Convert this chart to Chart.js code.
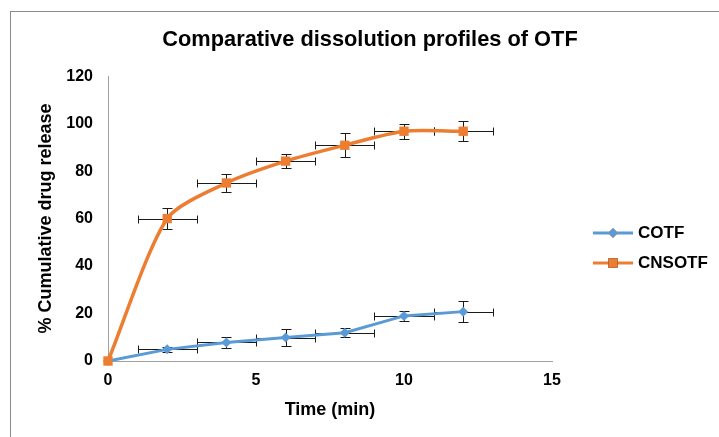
<!DOCTYPE html>
<html>
<head>
<meta charset="utf-8">
<title>Comparative dissolution profiles of OTF</title>
<script src="https://cdn.jsdelivr.net/npm/chart.js@4.4.1/dist/chart.umd.min.js"></script>
<style>
  body { margin: 0; background: #fff; }
  #wrap { position: relative; width: 719px; height: 437px; }
  #frame { position: absolute; left: 10px; top: 11px; right: 0; bottom: 0; border-left: 1px solid #8c8c8c; border-top: 1px solid #8c8c8c; }
  #chart { position: absolute; left: 0; top: 0; }
</style>
</head>
<body>
<div id="wrap">
  <div id="frame"></div>
  <canvas id="chart" width="719" height="437"></canvas>
</div>
<script>
const times = [0, 2, 4, 6, 8, 10, 12];
const timeErr = [0, 1, 1, 1, 1, 1, 1];
const cotf = [0, 4.9, 7.8, 9.9, 11.9, 19.0, 20.8];
const cotfErr = [0, 1.0, 2.2, 3.6, 1.9, 2.1, 4.3];
const cnsotf = [0, 60.0, 75.0, 84.2, 90.9, 96.8, 96.8];
const cnsotfErr = [0, 4.4, 3.6, 2.9, 5.0, 3.2, 4.3];
const xTicks = [0, 5, 10, 15];
const yTicks = [0, 20, 40, 60, 80, 100, 120];

const FONT = "'Liberation Sans', Arial, sans-serif";
const blue = '#5b9bd5';
const orange = '#ed7d31';

function points(ys) {
  return times.map((t, i) => ({ x: t, y: ys[i] }));
}

const errorBars = {
  id: 'errorBars',
  beforeDatasetsDraw(chart) {
    const ctx = chart.ctx;
    const xs = chart.scales.x;
    const ys = chart.scales.y;
    ctx.save();
    ctx.strokeStyle = '#1a1a1a';
    ctx.lineWidth = 1;
    chart.data.datasets.forEach(ds => {
      ds.data.forEach((p, i) => {
        const px = xs.getPixelForValue(p.x);
        const py = ys.getPixelForValue(p.y);
        const ex = ds.xErr[i];
        const ey = ds.yErr[i];
        ctx.beginPath();
        if (ex) {
          const x1 = Math.round(xs.getPixelForValue(p.x - ex)) + 0.5;
          const x2 = Math.round(xs.getPixelForValue(p.x + ex)) + 0.5;
          const yy = Math.round(py) + 0.5;
          ctx.moveTo(x1, yy); ctx.lineTo(x2, yy);
          ctx.moveTo(x1, yy - 4); ctx.lineTo(x1, yy + 4);
          ctx.moveTo(x2, yy - 4); ctx.lineTo(x2, yy + 4);
        }
        if (ey) {
          const y1 = Math.round(ys.getPixelForValue(p.y - ey)) + 0.5;
          const y2 = Math.round(ys.getPixelForValue(p.y + ey)) + 0.5;
          const xx = Math.round(px) + 0.5;
          ctx.moveTo(xx, y1); ctx.lineTo(xx, y2);
          ctx.moveTo(xx - 5, y1); ctx.lineTo(xx + 5, y1);
          ctx.moveTo(xx - 5, y2); ctx.lineTo(xx + 5, y2);
        }
        ctx.stroke();
      });
    });
    ctx.restore();
  }
};

const sideLegend = {
  id: 'sideLegend',
  afterDraw(chart) {
    const ctx = chart.ctx;
    const left = 593;
    const top = 233;
    const gap = 30;
    ctx.save();
    chart.data.datasets.forEach((ds, i) => {
      const y = top + i * gap;
      ctx.strokeStyle = ds.borderColor;
      ctx.lineWidth = 3;
      ctx.beginPath();
      ctx.moveTo(left, y);
      ctx.lineTo(left + 40, y);
      ctx.stroke();
      Chart.helpers.drawPoint(ctx, {
        pointStyle: ds.pointStyle,
        radius: ds.pointRadius,
        borderWidth: 0
      }, left + 20, y);
      ctx.fillStyle = ds.backgroundColor;
      ctx.fill();
      ctx.fillStyle = '#000';
      ctx.font = 'bold 17px ' + FONT;
      ctx.textBaseline = 'middle';
      ctx.textAlign = 'left';
      ctx.fillText(ds.label, left + 45, y);
    });
    ctx.restore();
  }
};

new Chart(document.getElementById('chart'), {
  type: 'line',
  data: {
    datasets: [
      {
        label: 'COTF',
        data: points(cotf),
        xErr: timeErr,
        yErr: cotfErr,
        borderColor: blue,
        backgroundColor: blue,
        borderWidth: 3,
        pointStyle: 'rectRot',
        pointRadius: 5,
        pointBorderWidth: 0,
        tension: 0,
        clip: false,
        order: 1
      },
      {
        label: 'CNSOTF',
        data: points(cnsotf),
        xErr: timeErr,
        yErr: cnsotfErr,
        borderColor: orange,
        backgroundColor: orange,
        borderWidth: 3.5,
        pointStyle: 'rect',
        pointRadius: 6.6,
        pointBorderWidth: 0,
        tension: 0.25,
        clip: false,
        order: 0
      }
    ]
  },
  options: {
    responsive: false,
    animation: false,
    layout: { padding: { left: 21, right: 0, top: 0, bottom: 0 } },
    plugins: {
      legend: { display: false },
      tooltip: { enabled: false },
      title: {
        display: true,
        text: 'Comparative dissolution profiles of OTF',
        color: '#000',
        font: { family: FONT, size: 21.8, weight: 'bold' },
        padding: { top: 27, bottom: 23 }
      }
    },
    scales: {
      x: {
        type: 'linear',
        min: 0,
        max: 15,
        afterBuildTicks: s => { s.ticks = xTicks.map(v => ({ value: v })); },
        afterFit: s => { s.height = 76; },
        grid: { display: false, drawTicks: false },
        border: { color: '#a0a0a0', width: 1 },
        ticks: { color: '#000', padding: 10, font: { family: FONT, size: 16, weight: 'bold' } },
        title: {
          display: true,
          text: 'Time (min)',
          color: '#000',
          font: { family: FONT, size: 18, weight: 'bold' },
          padding: { top: 0, bottom: 16 }
        }
      },
      y: {
        min: 0,
        max: 120,
        afterBuildTicks: s => { s.ticks = yTicks.map(v => ({ value: v })); },
        afterFit: s => { s.width = 87; },
        grid: { display: false, drawTicks: false },
        border: { color: '#a0a0a0', width: 1 },
        ticks: { color: '#000', padding: 15, font: { family: FONT, size: 16, weight: 'bold' } },
        title: {
          display: true,
          text: '% Cumulative drug release',
          color: '#000',
          font: { family: FONT, size: 18, weight: 'bold' },
          padding: { top: 14, bottom: 0 }
        }
      },
      side: {
        position: 'right',
        afterFit: s => { s.width = 167; },
        grid: { display: false, drawTicks: false },
        border: { display: false },
        ticks: { display: false }
      }
    }
  },
  plugins: [errorBars, sideLegend]
});
</script>
</body>
</html>
